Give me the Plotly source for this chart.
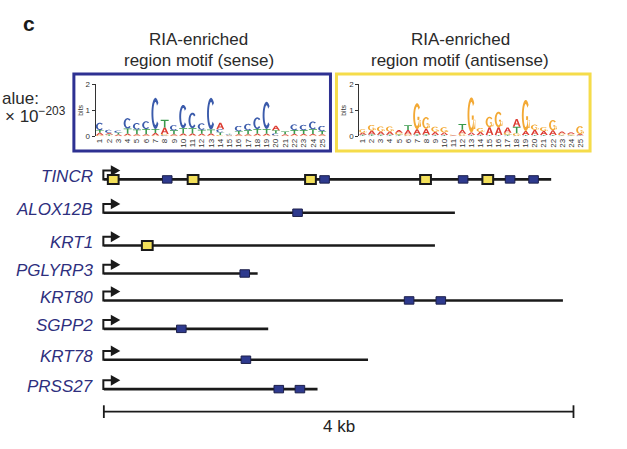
import math
import plotly.graph_objects as go

# ---------------- data ----------------
genes = ["TINCR", "ALOX12B", "KRT1", "PGLYRP3", "KRT80", "SGPP2", "KRT78", "PRSS27"]
gene_length_kb = [3.81, 2.99, 2.82, 1.31, 3.91, 1.40, 2.25, 1.82]

motif_gene = ["TINCR"] * 10 + ["ALOX12B", "KRT1", "PGLYRP3", "KRT80", "KRT80",
                               "SGPP2", "KRT78", "PRSS27", "PRSS27"]
motif_kb = [0.08, 0.54, 0.76, 1.76, 1.88, 2.74, 3.06, 3.27, 3.46, 3.66,
            1.65, 0.37, 1.20, 2.60, 2.87, 0.66, 1.21, 1.49, 1.67]
motif_strand = ["antisense", "sense", "antisense", "antisense", "sense", "antisense",
                "sense", "antisense", "sense", "sense",
                "sense", "antisense", "sense", "sense", "sense", "sense", "sense",
                "sense", "sense"]
scale_kb = 4

logo_positions = list(range(1, 26))
# sense motif letter heights (bits)
sense_A = [0.10, 0.06, 0.05, 0.07, 0.05, 0.05, 0.10, 0.25, 0.05, 0.08, 0.08, 0.07, 0.08,
           0.25, 0.02, 0.05, 0.05, 0.07, 0.07, 0.18, 0.06, 0.06, 0.06, 0.06, 0.05]
sense_C = [0.28, 0.12, 0.08, 0.40, 0.25, 0.30, 1.20, 0.04, 0.20, 0.90, 0.60, 0.25, 1.22,
           0.12, 0.03, 0.20, 0.25, 0.45, 1.05, 0.08, 0.00, 0.22, 0.20, 0.30, 0.20]
sense_G = [0.04, 0.02, 0.02, 0.03, 0.03, 0.03, 0.03, 0.05, 0.03, 0.03, 0.03, 0.03, 0.03,
           0.05, 0.02, 0.03, 0.03, 0.03, 0.03, 0.03, 0.02, 0.03, 0.03, 0.03, 0.03]
sense_T = [0.10, 0.05, 0.07, 0.20, 0.18, 0.20, 0.15, 0.30, 0.15, 0.20, 0.20, 0.15, 0.15,
           0.10, 0.03, 0.12, 0.15, 0.18, 0.18, 0.12, 0.10, 0.15, 0.15, 0.18, 0.12]
# antisense motif letter heights (bits)
antisense_A = [0.08, 0.15, 0.12, 0.12, 0.10, 0.17, 0.20, 0.22, 0.12, 0.10, 0.02, 0.15, 0.10,
               0.12, 0.30, 0.30, 0.20, 0.30, 0.15, 0.20, 0.15, 0.18, 0.08, 0.07, 0.05]
antisense_C = [0.02, 0.02, 0.02, 0.02, 0.02, 0.02, 0.02, 0.02, 0.02, 0.02, 0.01, 0.02, 0.02,
               0.02, 0.02, 0.02, 0.02, 0.02, 0.02, 0.02, 0.02, 0.02, 0.02, 0.02, 0.02]
antisense_G = [0.13, 0.22, 0.20, 0.20, 0.07, 0.05, 1.00, 0.45, 0.20, 0.20, 0.02, 0.08, 1.35,
               0.15, 0.40, 0.60, 0.08, 0.10, 1.20, 0.20, 0.15, 0.40, 0.06, 0.05, 0.30]
antisense_T = [0.04, 0.05, 0.04, 0.04, 0.05, 0.19, 0.05, 0.05, 0.03, 0.03, 0.01, 0.22, 0.03,
               0.03, 0.03, 0.03, 0.04, 0.25, 0.03, 0.03, 0.03, 0.03, 0.02, 0.02, 0.02]

# ---------------- layout / style ----------------
W, H = 627, 449
X0_PX, PX_PER_KB = 103.0, 117.6
ROW_Y = [179, 213, 246.5, 275, 302.5, 331.5, 363, 393]  # pixel rows
SCALE_Y = 416
FONT = "Liberation Sans, Arial, Helvetica, sans-serif"
GENE_COLOR = "#2e2f7e"
BLUE = "#2e3a8e"
YELLOW = "#f3e05a"
FRAME_BLUE = "#2e3192"
FRAME_YELLOW = "#f5dc4a"
TEXT = "#2a2a2a"
LETTER_COLORS = {"A": "#dc3d33", "C": "#3b5bab", "G": "#f3a935", "T": "#3a9a4c"}


def px2kb(px):
    return (px - X0_PX) / PX_PER_KB


def kbw(px):
    return px / PX_PER_KB


def pxx(px):
    return px / W


def pxy(py):
    return 1 - py / H


fig = go.Figure()
shapes = []
annotations = []

# ---- gene lines ----
for g, L, y in zip(genes, gene_length_kb, ROW_Y):
    fig.add_trace(go.Scatter(x=[0, L], y=[y, y], mode="lines",
                             line=dict(color="#1a1a1a", width=2.6),
                             hoverinfo="skip", showlegend=False, xaxis="x", yaxis="y"))
    # TSS arrow
    ya = y - 9
    shapes.append(dict(type="path", xref="x", yref="y",
                       path=f"M {px2kb(X0_PX - 0.5)},{y + 1} L {px2kb(X0_PX - 0.5)},{ya} L {px2kb(X0_PX + 9)},{ya}",
                       line=dict(color="#1a1a1a", width=2)))
    shapes.append(dict(type="path", xref="x", yref="y",
                       path=f"M {px2kb(X0_PX + 7)},{ya - 5.5} L {px2kb(X0_PX + 16.5)},{ya} L {px2kb(X0_PX + 7)},{ya + 5.5} Z",
                       fillcolor="#1a1a1a", line=dict(width=0)))
    annotations.append(dict(x=pxx(94), y=y - 3, xref="paper", yref="y", text=g,
                            showarrow=False, xanchor="right", yanchor="middle",
                            font=dict(family=FONT, size=17, color=GENE_COLOR, style="italic")))

# ---- motif boxes ----
row_of = dict(zip(genes, ROW_Y))
for g, pos, s in zip(motif_gene, motif_kb, motif_strand):
    y = row_of[g]
    if s == "sense":
        hw, hh = kbw(4.8), 3.8
        shapes.append(dict(type="rect", xref="x", yref="y", x0=pos - hw, x1=pos + hw,
                           y0=y - hh, y1=y + hh, fillcolor=BLUE,
                           line=dict(color="#1c1f4a", width=1)))
    else:
        hw, hh = kbw(5.4), 4.6
        shapes.append(dict(type="rect", xref="x", yref="y", x0=pos - hw, x1=pos + hw,
                           y0=y - hh, y1=y + hh, fillcolor=YELLOW,
                           line=dict(color="#1a1a1a", width=2)))

# ---- scale bar ----
fig.add_trace(go.Scatter(x=[0, scale_kb, None, 0, 0, None, scale_kb, scale_kb],
                         y=[SCALE_Y, SCALE_Y, None, SCALE_Y - 6.5, SCALE_Y + 6.5, None,
                            SCALE_Y - 6.5, SCALE_Y + 6.5],
                         mode="lines", line=dict(color="#1a1a1a", width=1.8),
                         hoverinfo="skip", showlegend=False, xaxis="x", yaxis="y"))
annotations.append(dict(x=scale_kb / 2, y=431, xref="x", yref="y", text=f"{scale_kb} kb",
                        showarrow=False, xanchor="center", yanchor="middle",
                        font=dict(family=FONT, size=17, color="#222")))


# ---- sequence logos ----
def arc_ring(a0, a1, tx=0.24, ty=0.13, n=28):
    outer, inner = [], []
    for i in range(n + 1):
        t = math.radians(a0 + (a1 - a0) * i / n)
        outer.append((0.5 + 0.5 * math.cos(t), 0.5 + 0.5 * math.sin(t)))
        inner.append((0.5 + (0.5 - tx) * math.cos(t), 0.5 + (0.5 - ty) * math.sin(t)))
    return outer + inner[::-1]


def glyph(letter):
    if letter == "C":
        return [arc_ring(42, 318)]
    if letter == "G":
        return [arc_ring(42, 340),
                [(0.55, 0.36), (1.0, 0.36), (1.0, 0.48), (0.55, 0.48)],
                [(0.80, 0.10), (1.0, 0.10), (1.0, 0.48), (0.80, 0.48)]]
    if letter == "T":
        return [[(0, 1), (0, 0.84), (0.4, 0.84), (0.4, 0), (0.6, 0), (0.6, 0.84), (1, 0.84), (1, 1)]]
    # A
    return [[(0, 0), (0.38, 1), (0.62, 1), (1, 0), (0.78, 0), (0.68, 0.28), (0.32, 0.28), (0.22, 0)],
            [(0.38, 0.42), (0.62, 0.42), (0.5, 0.78)]]


def add_logo(xa, ya, heights):
    for i, p in enumerate(logo_positions):
        stack = sorted([(heights[k][i], k) for k in "ACGT" if heights[k][i] > 0])
        base = 0.0
        for h, k in stack:
            x0, w = p - 0.43, 0.86
            parts = []
            for poly in glyph(k):
                pts = [f"{x0 + w * u:.4f},{base + h * v:.4f}" for u, v in poly]
                parts.append("M " + " L ".join(pts) + " Z")
            shapes.append(dict(type="path", xref=xa, yref=ya, path=" ".join(parts),
                               fillcolor=LETTER_COLORS[k], line=dict(width=0), layer="above"))
            base += h


add_logo("x2", "y2", {"A": sense_A, "C": sense_C, "G": sense_G, "T": sense_T})
add_logo("x3", "y3", {"A": antisense_A, "C": antisense_C, "G": antisense_G, "T": antisense_T})

# logo frames
shapes.append(dict(type="rect", xref="paper", yref="paper", x0=pxx(73), x1=pxx(330),
                   y0=pxy(150), y1=pxy(71.5), line=dict(color=FRAME_BLUE, width=3)))
shapes.append(dict(type="rect", xref="paper", yref="paper", x0=pxx(336), x1=pxx(590),
                   y0=pxy(150), y1=pxy(71.5), line=dict(color=FRAME_YELLOW, width=3)))

# titles (each line placed separately)
for cx, l1, l2 in [(198, "RIA-enriched", "region motif (sense)"),
                   (460, "RIA-enriched", "region motif (antisense)")]:
    for cy, t in [(36, l1), (57.5, l2)]:
        annotations.append(dict(x=pxx(cx), y=pxy(cy), xref="paper", yref="paper", text=t,
                                showarrow=False, xanchor="center", yanchor="middle",
                                font=dict(family=FONT, size=17, color=TEXT)))

annotations.append(dict(x=pxx(28), y=pxy(20), xref="paper", yref="paper", text="<b>c</b>",
                        showarrow=False, xanchor="center", yanchor="middle",
                        font=dict(family=FONT, size=21, color="#1a1a1a")))
annotations.append(dict(x=pxx(-1), y=pxy(96), xref="paper", yref="paper", text="alue:",
                        showarrow=False, xanchor="left", yanchor="middle",
                        font=dict(family=FONT, size=17, color=TEXT)))
annotations.append(dict(x=pxx(67), y=pxy(113), xref="paper", yref="paper",
                        text="× 10<sup>−203</sup>", showarrow=False, xanchor="right",
                        yanchor="middle", font=dict(family=FONT, size=17, color=TEXT)))

logo_y = dict(range=[0, 2], domain=[pxy(135), pxy(82)], showline=True, linecolor="#333",
              linewidth=1.4, ticks="outside", ticklen=3, tickwidth=1, tickcolor="#333",
              tickvals=[0, 1, 2], tickfont=dict(family=FONT, size=8, color="#333"),
              showgrid=False, zeroline=False, fixedrange=True,
              title=dict(text="bits", font=dict(family=FONT, size=7, color="#333"), standoff=1))
logo_x = dict(tickvals=logo_positions, ticktext=[str(p) for p in logo_positions],
              tickangle=-90, tickfont=dict(family=FONT, size=8, color="#333"),
              showline=False, ticks="", showgrid=False, zeroline=False, fixedrange=True)

fig.update_layout(
    width=W, height=H, margin=dict(l=0, r=0, t=0, b=0),
    paper_bgcolor="white", plot_bgcolor="rgba(0,0,0,0)",
    xaxis=dict(range=[px2kb(0), px2kb(W)], domain=[0, 1], visible=False, fixedrange=True),
    yaxis=dict(range=[H, 0], domain=[0, 1], visible=False, fixedrange=True),
    xaxis2=dict(logo_x, domain=[pxx(95), pxx(329)], anchor="y2",
                range=[1 - 4 / 9.28, 25 + 7.3 / 9.28]),
    yaxis2=dict(logo_y, anchor="x2"),
    xaxis3=dict(logo_x, domain=[pxx(359), pxx(588)], anchor="y3",
                range=[1 - 3.3 / 9.07, 25 + 8 / 9.07]),
    yaxis3=dict(logo_y, anchor="x3"),
    shapes=shapes, annotations=annotations, showlegend=False,
)
# invisible anchor traces so the logo subplots are drawn
for xa, ya in [("x2", "y2"), ("x3", "y3")]:
    fig.add_trace(go.Scatter(x=[1], y=[0], mode="markers", marker=dict(opacity=0),
                             hoverinfo="skip", showlegend=False, xaxis=xa, yaxis=ya))

fig.write_html("out.html", config={"displayModeBar": False},
               post_script="document.body.style.margin='0';document.body.style.overflow='hidden';")
